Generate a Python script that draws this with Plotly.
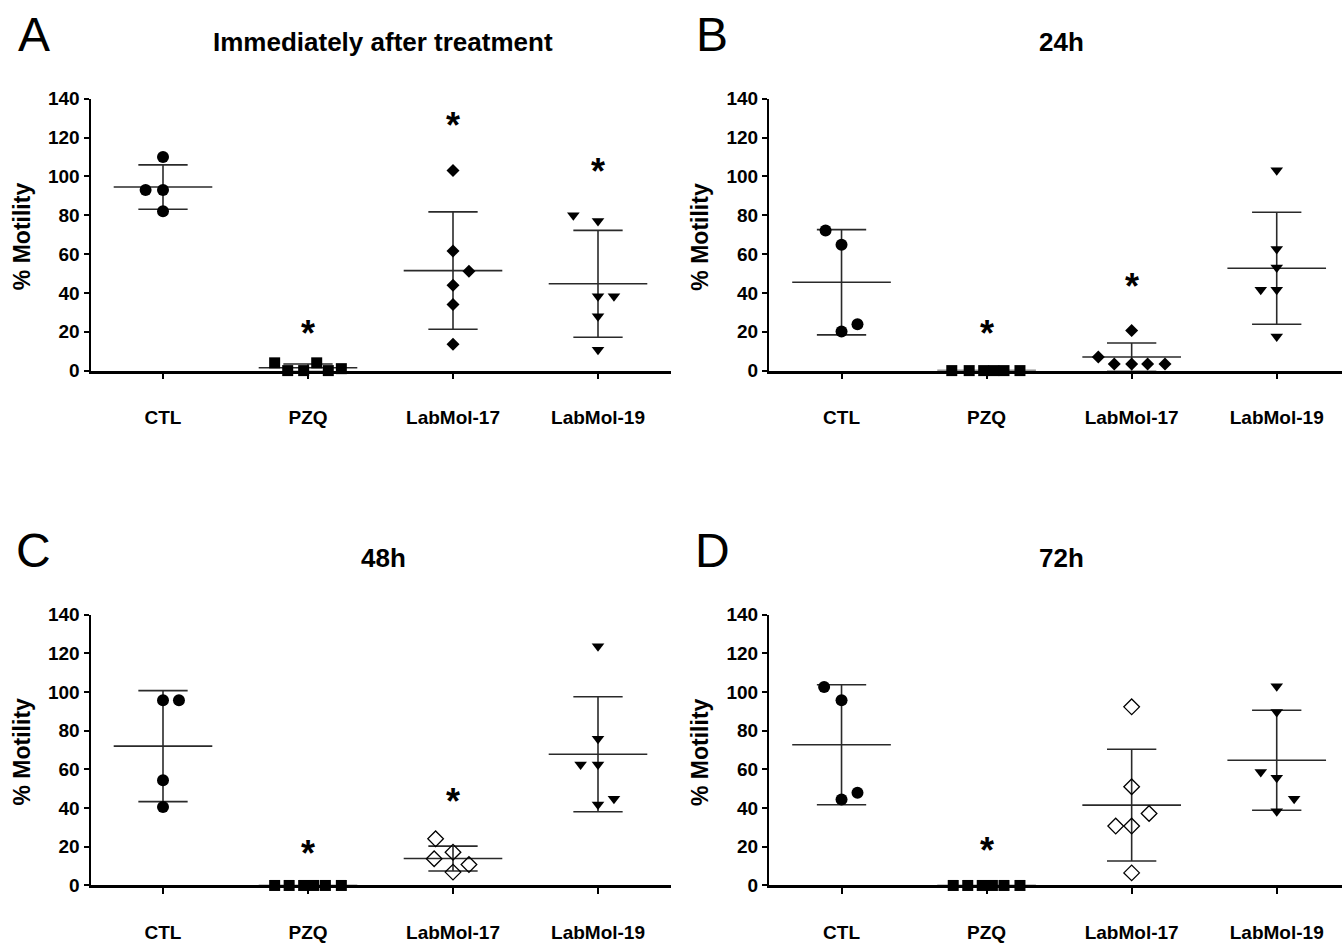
import plotly.graph_objects as go

categories = ["CTL", "PZQ", "LabMol-17", "LabMol-19"]
y_ticks = [0, 20, 40, 60, 80, 100, 120, 140]

panel_letters = ["A", "B", "C", "D"]
panel_titles = ["Immediately after treatment", "24h", "48h", "72h"]

# ---- Panel A: immediately after treatment ----
a_ctl = [110, 93, 93, 82]
a_pzq = [4, 0, 0, 4, 0, 1]
a_l17 = [103, 61.6, 51.2, 44, 34, 13.6]
a_l19 = [80, 77, 38.3, 38.3, 28, 10.7]
a_mean = [94.5, 1.5, 51.5, 44.7]
a_sd = [11.4, 1.9, 30.2, 27.5]
a_star = [None, 22.5, 130, 106]

# ---- Panel B: 24h ----
b_ctl = [72.1, 64.8, 20.1, 23.9]
b_pzq = [0, 0, 0, 0, 0, 0]
b_l17 = [20.6, 7, 3.4, 3.4, 3.4, 3.4]
b_l19 = [103.2, 62.6, 53.1, 41.6, 41.6, 17.5]
b_mean = [45.5, 0, 7.0, 52.7]
b_sd = [27.1, 0, 7.2, 28.8]
b_star = [None, 22.7, 47, None]

# ---- Panel C: 48h ----
c_ctl = [95.7, 95.7, 54.4, 40.6]
c_pzq = [0, 0, 0, 0, 0, 0]
c_l17 = [24.1, 17.2, 13.8, 10.8, 6.9]
c_l19 = [123.6, 75.8, 62.5, 62.5, 41.8, 44.8]
c_mean = [72.0, 0, 13.9, 67.8]
c_sd = [28.7, 0, 6.4, 29.7]
c_star = [None, 20, 47, None]

# ---- Panel D: 72h ----
d_ctl = [102.6, 95.7, 44.4, 47.9]
d_pzq = [0, 0, 0, 0, 0, 0]
d_l17 = [92.3, 51, 37.2, 30.7, 30.7, 6.5]
d_l19 = [103, 89.6, 58.6, 55.6, 44.8, 38.4]
d_mean = [72.7, 0, 41.5, 64.7]
d_sd = [31.0, 0, 28.9, 25.8]
d_star = [None, 21.5, None, None]

# horizontal scatter offsets of individual points (GraphPad-style spreading)
a_dx = [[0, -0.12, 0, 0], [-0.23, -0.14, -0.03, 0.06, 0.14, 0.23],
        [0, 0, 0.11, 0, 0, 0], [-0.17, 0, 0, 0.11, 0, 0]]
b_dx = [[-0.11, 0, 0, 0.11], [-0.24, -0.12, -0.02, 0.05, 0.12, 0.23],
        [0, -0.23, -0.12, 0, 0.11, 0.23], [0, 0, 0, -0.11, 0, 0]]
c_dx = [[0, 0.11, 0, 0], [-0.23, -0.13, -0.03, 0.04, 0.12, 0.23],
        [-0.12, 0, -0.13, 0.11, 0], [0, 0, -0.12, 0, 0, 0.11]]
d_dx = [[-0.12, 0, 0, 0.11], [-0.23, -0.13, -0.03, 0.04, 0.12, 0.23],
        [0, 0, 0.12, -0.11, 0, 0], [0, 0, -0.11, 0, 0.12, 0]]

panels = [
    dict(groups=[a_ctl, a_pzq, a_l17, a_l19], dx=a_dx, mean=a_mean, sd=a_sd, star=a_star, open17=False),
    dict(groups=[b_ctl, b_pzq, b_l17, b_l19], dx=b_dx, mean=b_mean, sd=b_sd, star=b_star, open17=False),
    dict(groups=[c_ctl, c_pzq, c_l17, c_l19], dx=c_dx, mean=c_mean, sd=c_sd, star=c_star, open17=True),
    dict(groups=[d_ctl, d_pzq, d_l17, d_l19], dx=d_dx, mean=d_mean, sd=d_sd, star=d_star, open17=True),
]

W, H = 1342, 943
FONT = "Liberation Sans, Arial, Helvetica, sans-serif"


def py(y_px):
    """target pixel row (from top) -> paper fraction, compensating the observed render mapping"""
    y_int = (y_px - 10.3) / 0.978
    return 1 - y_int / H


# pixel geometry of each panel: (y-axis x, x-axis right end, y of value 0, y of value 140)
geom = [
    (90.5, 670.5, 371, 99),
    (769, 1342, 371, 99),
    (90.5, 670.5, 886, 615),
    (769, 1342, 886, 615),
]
xranges = [[-0.5, 3.5], [-0.5, 3.45], [-0.5, 3.5], [-0.5, 3.45]]

fig = go.Figure()
layout = dict(
    width=W, height=H,
    margin=dict(l=0, r=0, t=0, b=0),
    paper_bgcolor="white", plot_bgcolor="white",
    showlegend=False,
    font=dict(family=FONT, color="black"),
    annotations=[],
)

LINE_COL = "#2a2a2a"

for p, panel in enumerate(panels):
    sfx = "" if p == 0 else str(p + 1)
    xa, ya = "x" + sfx, "y" + sfx
    x0, x1, y0, y1 = geom[p]
    layout["xaxis" + sfx] = dict(
        domain=[x0 / W, min(x1 / W, 1.0)], range=xranges[p], anchor=ya,
        showgrid=False, zeroline=False, showline=True, linecolor="black", linewidth=2.5,
        ticks="outside", ticklen=6, tickwidth=2, tickcolor="black",
        tickvals=[0, 1, 2, 3], ticktext=categories,
        tickfont=dict(family=FONT, size=19, color="black", weight="bold"),
        ticklabelstandoff=22, fixedrange=True,
    )
    layout["yaxis" + sfx] = dict(
        domain=[py(y0), py(y1)], range=[0, 140], anchor=xa,
        showgrid=False, zeroline=False, showline=True, linecolor="black", linewidth=2,
        ticks="outside", ticklen=5, tickwidth=1.5, tickcolor="black",
        tickvals=y_ticks, tickfont=dict(family=FONT, size=19, color="black", weight="bold"),
        fixedrange=True,
    )
    # y axis title
    layout["annotations"].append(dict(
        text="% Motility", textangle=-90, showarrow=False,
        xref="paper", yref="paper", x=(x0 - 69) / W, y=py((y0 + y1) / 2 + 2),
        xanchor="center", yanchor="middle",
        font=dict(family=FONT, size=23, color="black", weight="bold"),
    ))
    # panel letter and title
    layout["annotations"].append(dict(
        text=panel_letters[p], showarrow=False, xref="paper", yref="paper",
        x=(x0 - 57) / W, y=py(y1 - 64), xanchor="center", yanchor="middle",
        font=dict(family=FONT, size=48, color="black"),
    ))
    layout["annotations"].append(dict(
        text=panel_titles[p], showarrow=False, xref="paper", yref="paper",
        x=(x0 + 292.5) / W, y=py(y1 - 57), xanchor="center", yanchor="middle",
        font=dict(family=FONT, size=26, color="black", weight="bold"),
    ))

    # error bars: mean line, SD whiskers with caps
    ex, ey = [], []
    for i in range(4):
        m, s = panel["mean"][i], panel["sd"][i]
        ex += [i - 0.34, i + 0.34, None]
        ey += [m, m, None]
        if s > 0:
            ex += [i, i, None, i - 0.17, i + 0.17, None, i - 0.17, i + 0.17, None]
            ey += [m - s, m + s, None, m + s, m + s, None, m - s, m - s, None]
    fig.add_trace(go.Scatter(x=ex, y=ey, mode="lines", xaxis=xa, yaxis=ya,
                             line=dict(color=LINE_COL, width=1.6), hoverinfo="skip"))

    symbols = ["circle", "square",
               "diamond-open" if panel["open17"] else "diamond", "triangle-down"]
    sizes = [12, 11, 12 if panel["open17"] else 10, 11]
    for i in range(4):
        vals = panel["groups"][i]
        xs = [i + d for d in panel["dx"][i]]
        fig.add_trace(go.Scatter(
            x=xs, y=vals, mode="markers", xaxis=xa, yaxis=ya, cliponaxis=False,
            marker=dict(symbol=symbols[i], size=sizes[i], color="black",
                        line=dict(color="#333333" if i == 2 and panel["open17"] else "black",
                                  width=1.3 if i == 2 and panel["open17"] else 0)),
        ))
        if panel["star"][i] is not None:
            layout["annotations"].append(dict(
                text="<b>*</b>", showarrow=False, xref=xa, yref=ya, x=i, y=panel["star"][i],
                xanchor="center", yanchor="middle", yshift=-7,
                font=dict(family=FONT, size=36, color="black"),
            ))

fig.update_layout(**layout)
fig.write_html(
    "out.html",
    config={"displayModeBar": False},
    post_script="document.body.style.margin='0';document.body.style.padding='0';"
                "document.body.style.overflow='hidden';",
)
